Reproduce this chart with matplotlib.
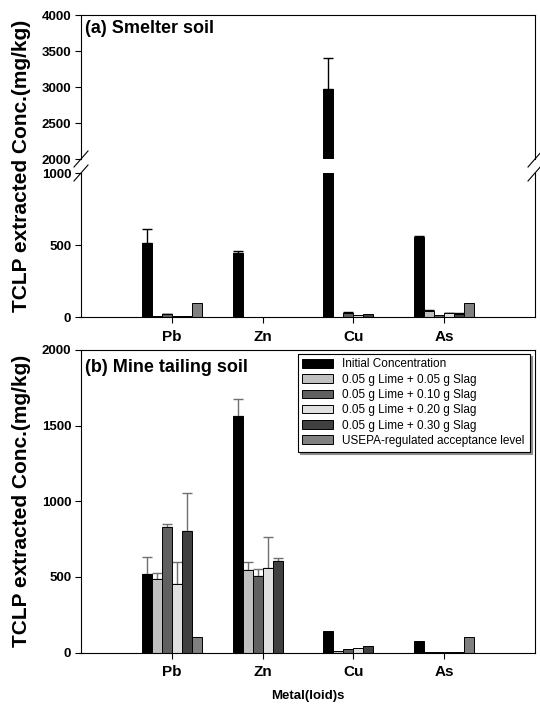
import numpy as np
import matplotlib
matplotlib.use("Agg")
import matplotlib.pyplot as plt
from matplotlib.lines import Line2D

plt.rcParams['font.family'] = ['Liberation Sans', 'DejaVu Sans']
plt.rcParams['font.weight'] = 'bold'

metals = ["Pb", "Zn", "Cu", "As"]
series_names = ["Initial Concentration",
                "0.05 g Lime + 0.05 g Slag",
                "0.05 g Lime + 0.10 g Slag",
                "0.05 g Lime + 0.20 g Slag",
                "0.05 g Lime + 0.30 g Slag",
                "USEPA-regulated acceptance level"]
colors = ["#000000", "#c0c0c0", "#606060", "#e0e0e0", "#404040", "#808080"]

# (a) Smelter soil
a_initial = [512, 442, 2969, 557]
a_lime005 = [9, 2, 2, 42]
a_lime010 = [20, 2, 28, 12]
a_lime020 = [8, 2, 16, 25]
a_lime030 = [6, 1, 19, 23]
a_usepa = [100, np.nan, np.nan, 100]
a_err_initial = [100, 14, 430, 5]
a_err_lime005 = [0, 0, 0, 6]
a_err_lime010 = [3, 0, 4, 0]
a_err_lime020 = [0, 0, 0, 4]
a_err_lime030 = [0, 0, 0, 3]

# (b) Mine tailing soil
b_initial = [517, 1564, 140, 73]
b_lime005 = [484, 548, 13, 2]
b_lime010 = [830, 506, 22, 2]
b_lime020 = [455, 561, 31, 2]
b_lime030 = [801, 605, 40, 2]
b_usepa = [100, np.nan, np.nan, 100]
b_err_initial = [117, 113, 0, 0]
b_err_lime005 = [40, 51, 0, 0]
b_err_lime010 = [21, 44, 0, 0]
b_err_lime020 = [142, 200, 0, 0]
b_err_lime030 = [255, 18, 0, 0]

a_vals = [a_initial, a_lime005, a_lime010, a_lime020, a_lime030, a_usepa]
a_errs = [a_err_initial, a_err_lime005, a_err_lime010, a_err_lime020, a_err_lime030, None]
b_vals = [b_initial, b_lime005, b_lime010, b_lime020, b_lime030, b_usepa]
b_errs = [b_err_initial, b_err_lime005, b_err_lime010, b_err_lime020, b_err_lime030, None]

W, H = 540, 710
fig = plt.figure(figsize=(W / 100, H / 100), dpi=100)

def fx(px):
    return px / W

def fy(py):
    return 1 - py / H

L, R = 81, 535
ax_up = fig.add_axes([fx(L), fy(159), fx(R - L), fy(15) - fy(159)])
ax_lo = fig.add_axes([fx(L), fy(317), fx(R - L), fy(173) - fy(317)])
ax_b = fig.add_axes([fx(L), fy(652.5), fx(R - L), fy(350) - fy(652.5)])

x = np.arange(1, len(metals) + 1)
bw = 0.11
offsets = (np.arange(6) - 2.5) * bw


def draw_bars(ax, vals, errs, ecolor):
    for i, (v, c) in enumerate(zip(vals, colors)):
        v = np.array(v, dtype=float)
        m = np.isfinite(v)
        ax.bar(x[m] + offsets[i], v[m], width=bw, color=c, edgecolor='black',
               linewidth=0.7, label=series_names[i], zorder=2)
        e = errs[i]
        if e is not None:
            e = np.array(e, dtype=float)
            em = m & (e > 0)
            if em.any():
                ax.errorbar(x[em] + offsets[i], v[em],
                            yerr=[np.zeros(em.sum()), e[em]],
                            fmt='none', ecolor=ecolor, elinewidth=1.0,
                            capsize=3.5, capthick=1.0, zorder=1)


for ax in (ax_up, ax_lo):
    draw_bars(ax, a_vals, a_errs, 'black')
draw_bars(ax_b, b_vals, b_errs, '#707070')

ax_up.set_ylim(2000, 4000)
ax_lo.set_ylim(0, 1000)
ax_b.set_ylim(0, 2000)
for ax in (ax_up, ax_lo, ax_b):
    ax.set_xlim(0, 5)
    for s in ax.spines.values():
        s.set_linewidth(0.8)
    ax.tick_params(axis='both', direction='out', length=4, width=0.8,
                   labelsize=9.5, pad=3)

ax_up.set_yticks([2000, 2500, 3000, 3500, 4000])
ax_lo.set_yticks([0, 500, 1000])
ax_b.set_yticks([0, 500, 1000, 1500, 2000])

ax_up.spines['bottom'].set_visible(False)
ax_up.set_xticks([])
ax_lo.spines['top'].set_visible(False)

for ax in (ax_lo, ax_b):
    ax.set_xticks(x)
    ax.set_xticklabels(metals, fontsize=11, fontweight='bold')
    ax.tick_params(axis='x', pad=5)

for ax in (ax_up, ax_lo, ax_b):
    for lab in ax.get_yticklabels():
        lab.set_fontweight('bold')

ax_up.text(0.008, 0.965, "(a) Smelter soil", transform=ax_up.transAxes,
           ha='left', va='top', fontsize=13, fontweight='bold')
ax_b.text(0.008, 0.97, "(b) Mine tailing soil", transform=ax_b.transAxes,
          ha='left', va='top', fontsize=13, fontweight='bold')

ax_b.set_xlabel("Metal(loid)s", fontsize=9.5, fontweight='bold', labelpad=8)

fig.text(fx(22), fy(166), "TCLP extracted Conc.(mg/kg)", rotation=90,
         ha='center', va='center', fontsize=15, fontweight='bold')
fig.text(fx(22), fy(501), "TCLP extracted Conc.(mg/kg)", rotation=90,
         ha='center', va='center', fontsize=15, fontweight='bold')

# axis break marks
for xs in (L, R):
    for ys in (159, 173):
        fig.add_artist(Line2D([fx(xs - 7), fx(xs + 7)], [fy(ys + 8), fy(ys - 8)],
                              color='black', linewidth=0.8))

leg = ax_b.legend(loc='upper right', bbox_to_anchor=(0.988, 0.988),
                  borderaxespad=0, fontsize=8.5, handlelength=2.6,
                  handleheight=0.75, labelspacing=0.28, handletextpad=0.8,
                  fancybox=False, edgecolor='black', framealpha=1,
                  borderpad=0.4, shadow={'color': '0.55', 'alpha': 1})
leg.get_frame().set_linewidth(0.8)
for t in leg.get_texts():
    t.set_fontweight('normal')

fig.savefig("out.png", dpi=100)
